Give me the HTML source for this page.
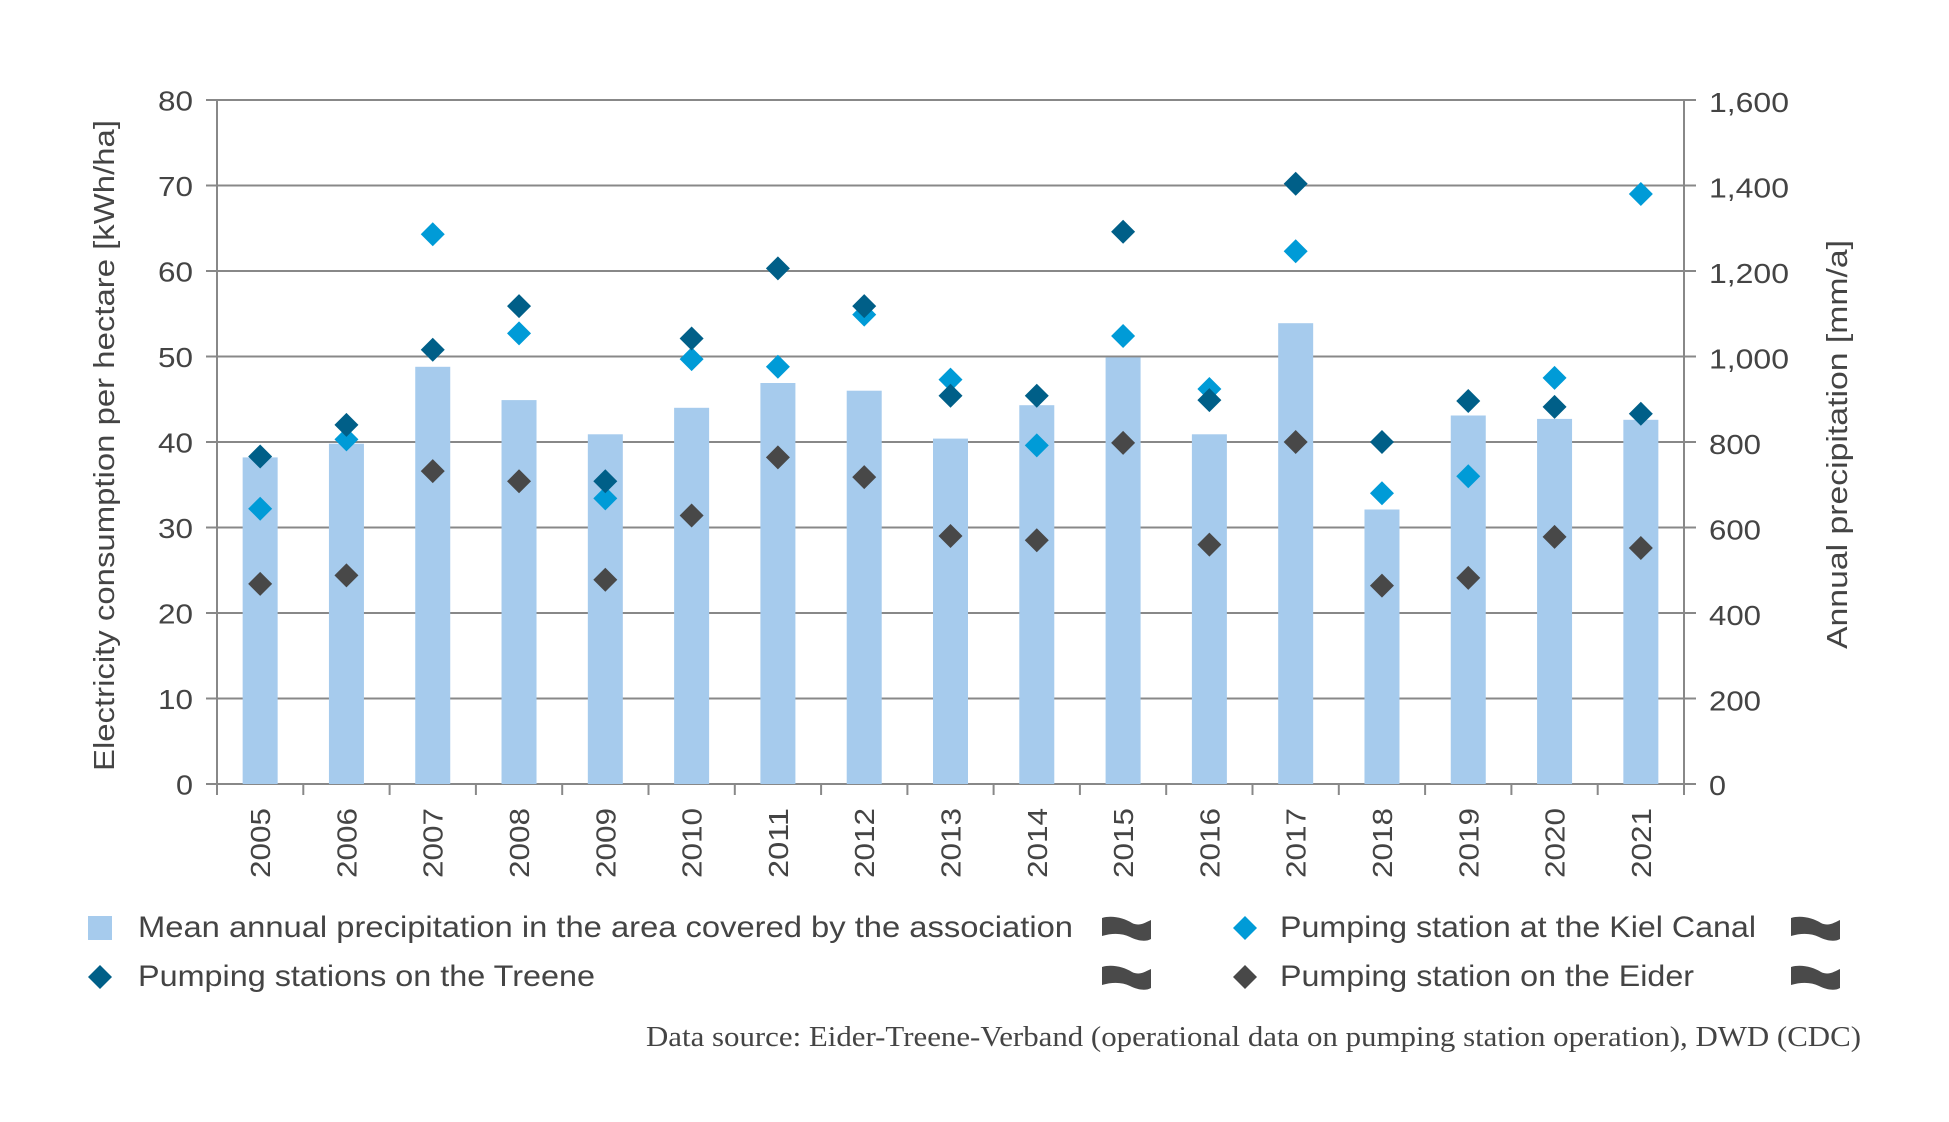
<!DOCTYPE html>
<html><head><meta charset="utf-8"><style>
html,body{margin:0;padding:0;background:#fff;}
svg{display:block;}
text{font-family:"Liberation Sans",sans-serif;fill:#444;}
</style></head><body>
<svg width="1949" height="1122" viewBox="0 0 1949 1122" xmlns="http://www.w3.org/2000/svg">
<rect width="1949" height="1122" fill="#fff"/>
<!-- gridlines -->
<g stroke="#888" stroke-width="2">
<line x1="206" y1="100" x2="1696" y2="100"/>
<line x1="206" y1="185.5" x2="1696" y2="185.5"/>
<line x1="206" y1="271" x2="1696" y2="271"/>
<line x1="206" y1="356.5" x2="1696" y2="356.5"/>
<line x1="206" y1="442" x2="1696" y2="442"/>
<line x1="206" y1="527.5" x2="1696" y2="527.5"/>
<line x1="206" y1="613" x2="1696" y2="613"/>
<line x1="206" y1="698.5" x2="1696" y2="698.5"/>
<line x1="206" y1="784" x2="1696" y2="784"/>
<line x1="217" y1="100" x2="217" y2="795"/>
<line x1="1684" y1="100" x2="1684" y2="795"/>
<line x1="303.3" y1="784" x2="303.3" y2="795"/>
<line x1="389.6" y1="784" x2="389.6" y2="795"/>
<line x1="475.9" y1="784" x2="475.9" y2="795"/>
<line x1="562.2" y1="784" x2="562.2" y2="795"/>
<line x1="648.5" y1="784" x2="648.5" y2="795"/>
<line x1="734.8" y1="784" x2="734.8" y2="795"/>
<line x1="821.1" y1="784" x2="821.1" y2="795"/>
<line x1="907.4" y1="784" x2="907.4" y2="795"/>
<line x1="993.6" y1="784" x2="993.6" y2="795"/>
<line x1="1079.9" y1="784" x2="1079.9" y2="795"/>
<line x1="1166.2" y1="784" x2="1166.2" y2="795"/>
<line x1="1252.5" y1="784" x2="1252.5" y2="795"/>
<line x1="1338.8" y1="784" x2="1338.8" y2="795"/>
<line x1="1425.1" y1="784" x2="1425.1" y2="795"/>
<line x1="1511.4" y1="784" x2="1511.4" y2="795"/>
<line x1="1597.7" y1="784" x2="1597.7" y2="795"/>
</g>
<!-- bars -->
<g fill="#a6cbed">
<rect x="242.65" y="457.4" width="35" height="326.6"/>
<rect x="328.94" y="443.7" width="35" height="340.3"/>
<rect x="415.24" y="366.8" width="35" height="417.2"/>
<rect x="501.53" y="400.1" width="35" height="383.9"/>
<rect x="587.82" y="434.3" width="35" height="349.7"/>
<rect x="674.12" y="407.8" width="35" height="376.2"/>
<rect x="760.41" y="383.0" width="35" height="401.0"/>
<rect x="846.71" y="390.7" width="35" height="393.3"/>
<rect x="933.0" y="438.6" width="35" height="345.4"/>
<rect x="1019.29" y="405.2" width="35" height="378.8"/>
<rect x="1105.59" y="357.4" width="35" height="426.6"/>
<rect x="1191.88" y="434.3" width="35" height="349.7"/>
<rect x="1278.18" y="323.2" width="35" height="460.8"/>
<rect x="1364.47" y="509.5" width="35" height="274.5"/>
<rect x="1450.76" y="415.5" width="35" height="368.5"/>
<rect x="1537.06" y="418.9" width="35" height="365.1"/>
<rect x="1623.35" y="419.8" width="35" height="364.2"/>
</g>
<!-- Eider -->
<g fill="#484848">
<path transform="translate(260.15,583.9)" d="M0,-12L12,0L0,12L-12,0Z"/>
<path transform="translate(346.44,575.4)" d="M0,-12L12,0L0,12L-12,0Z"/>
<path transform="translate(432.74,471.1)" d="M0,-12L12,0L0,12L-12,0Z"/>
<path transform="translate(519.03,481.3)" d="M0,-12L12,0L0,12L-12,0Z"/>
<path transform="translate(605.32,579.7)" d="M0,-12L12,0L0,12L-12,0Z"/>
<path transform="translate(691.62,515.5)" d="M0,-12L12,0L0,12L-12,0Z"/>
<path transform="translate(777.91,457.4)" d="M0,-12L12,0L0,12L-12,0Z"/>
<path transform="translate(864.21,477.1)" d="M0,-12L12,0L0,12L-12,0Z"/>
<path transform="translate(950.5,536.0)" d="M0,-12L12,0L0,12L-12,0Z"/>
<path transform="translate(1036.79,540.3)" d="M0,-12L12,0L0,12L-12,0Z"/>
<path transform="translate(1123.09,442.9)" d="M0,-12L12,0L0,12L-12,0Z"/>
<path transform="translate(1209.38,544.6)" d="M0,-12L12,0L0,12L-12,0Z"/>
<path transform="translate(1295.68,442.0)" d="M0,-12L12,0L0,12L-12,0Z"/>
<path transform="translate(1381.97,585.6)" d="M0,-12L12,0L0,12L-12,0Z"/>
<path transform="translate(1468.26,577.9)" d="M0,-12L12,0L0,12L-12,0Z"/>
<path transform="translate(1554.56,536.9)" d="M0,-12L12,0L0,12L-12,0Z"/>
<path transform="translate(1640.85,548.0)" d="M0,-12L12,0L0,12L-12,0Z"/>
</g>
<!-- Kiel Canal -->
<g fill="#009bd7">
<path transform="translate(260.15,508.7)" d="M0,-12L12,0L0,12L-12,0Z"/>
<path transform="translate(346.44,439.4)" d="M0,-12L12,0L0,12L-12,0Z"/>
<path transform="translate(432.74,234.2)" d="M0,-12L12,0L0,12L-12,0Z"/>
<path transform="translate(519.03,333.4)" d="M0,-12L12,0L0,12L-12,0Z"/>
<path transform="translate(605.32,498.4)" d="M0,-12L12,0L0,12L-12,0Z"/>
<path transform="translate(691.62,359.1)" d="M0,-12L12,0L0,12L-12,0Z"/>
<path transform="translate(777.91,366.8)" d="M0,-12L12,0L0,12L-12,0Z"/>
<path transform="translate(864.21,314.6)" d="M0,-12L12,0L0,12L-12,0Z"/>
<path transform="translate(950.5,379.6)" d="M0,-12L12,0L0,12L-12,0Z"/>
<path transform="translate(1036.79,445.4)" d="M0,-12L12,0L0,12L-12,0Z"/>
<path transform="translate(1123.09,336.0)" d="M0,-12L12,0L0,12L-12,0Z"/>
<path transform="translate(1209.38,389.0)" d="M0,-12L12,0L0,12L-12,0Z"/>
<path transform="translate(1295.68,251.3)" d="M0,-12L12,0L0,12L-12,0Z"/>
<path transform="translate(1381.97,493.3)" d="M0,-12L12,0L0,12L-12,0Z"/>
<path transform="translate(1468.26,476.2)" d="M0,-12L12,0L0,12L-12,0Z"/>
<path transform="translate(1554.56,377.9)" d="M0,-12L12,0L0,12L-12,0Z"/>
<path transform="translate(1640.85,194.0)" d="M0,-12L12,0L0,12L-12,0Z"/>
</g>
<!-- Treene -->
<g fill="#005f88">
<path transform="translate(260.15,456.5)" d="M0,-12L12,0L0,12L-12,0Z"/>
<path transform="translate(346.44,424.9)" d="M0,-12L12,0L0,12L-12,0Z"/>
<path transform="translate(432.74,349.7)" d="M0,-12L12,0L0,12L-12,0Z"/>
<path transform="translate(519.03,306.1)" d="M0,-12L12,0L0,12L-12,0Z"/>
<path transform="translate(605.32,481.3)" d="M0,-12L12,0L0,12L-12,0Z"/>
<path transform="translate(691.62,338.5)" d="M0,-12L12,0L0,12L-12,0Z"/>
<path transform="translate(777.91,268.4)" d="M0,-12L12,0L0,12L-12,0Z"/>
<path transform="translate(864.21,306.1)" d="M0,-12L12,0L0,12L-12,0Z"/>
<path transform="translate(950.5,395.8)" d="M0,-12L12,0L0,12L-12,0Z"/>
<path transform="translate(1036.79,395.8)" d="M0,-12L12,0L0,12L-12,0Z"/>
<path transform="translate(1123.09,231.7)" d="M0,-12L12,0L0,12L-12,0Z"/>
<path transform="translate(1209.38,400.1)" d="M0,-12L12,0L0,12L-12,0Z"/>
<path transform="translate(1295.68,183.8)" d="M0,-12L12,0L0,12L-12,0Z"/>
<path transform="translate(1381.97,442.0)" d="M0,-12L12,0L0,12L-12,0Z"/>
<path transform="translate(1468.26,401.0)" d="M0,-12L12,0L0,12L-12,0Z"/>
<path transform="translate(1554.56,406.9)" d="M0,-12L12,0L0,12L-12,0Z"/>
<path transform="translate(1640.85,413.8)" d="M0,-12L12,0L0,12L-12,0Z"/>
</g>
<!-- left tick labels -->
<g font-size="28" text-anchor="end">
<text x="193" y="110.5" textLength="35" lengthAdjust="spacingAndGlyphs">80</text>
<text x="193" y="196" textLength="35" lengthAdjust="spacingAndGlyphs">70</text>
<text x="193" y="281.5" textLength="35" lengthAdjust="spacingAndGlyphs">60</text>
<text x="193" y="367" textLength="35" lengthAdjust="spacingAndGlyphs">50</text>
<text x="193" y="452.5" textLength="35" lengthAdjust="spacingAndGlyphs">40</text>
<text x="193" y="538" textLength="35" lengthAdjust="spacingAndGlyphs">30</text>
<text x="193" y="623.5" textLength="35" lengthAdjust="spacingAndGlyphs">20</text>
<text x="193" y="709" textLength="35" lengthAdjust="spacingAndGlyphs">10</text>
<text x="193" y="794.5" textLength="17" lengthAdjust="spacingAndGlyphs">0</text>
</g>
<!-- right tick labels -->
<g font-size="28">
<text x="1709" y="112" textLength="80" lengthAdjust="spacingAndGlyphs">1,600</text>
<text x="1709" y="197.5" textLength="80" lengthAdjust="spacingAndGlyphs">1,400</text>
<text x="1709" y="283" textLength="80" lengthAdjust="spacingAndGlyphs">1,200</text>
<text x="1709" y="368.5" textLength="80" lengthAdjust="spacingAndGlyphs">1,000</text>
<text x="1709" y="454" textLength="52" lengthAdjust="spacingAndGlyphs">800</text>
<text x="1709" y="539.5" textLength="52" lengthAdjust="spacingAndGlyphs">600</text>
<text x="1709" y="625" textLength="52" lengthAdjust="spacingAndGlyphs">400</text>
<text x="1709" y="710.5" textLength="52" lengthAdjust="spacingAndGlyphs">200</text>
<text x="1709" y="795" textLength="17" lengthAdjust="spacingAndGlyphs">0</text>
</g>
<!-- year labels -->
<g font-size="28" text-anchor="end">
<text transform="translate(270.15,808) rotate(-90)" textLength="70" lengthAdjust="spacingAndGlyphs">2005</text>
<text transform="translate(356.44,808) rotate(-90)" textLength="70" lengthAdjust="spacingAndGlyphs">2006</text>
<text transform="translate(442.74,808) rotate(-90)" textLength="70" lengthAdjust="spacingAndGlyphs">2007</text>
<text transform="translate(529.03,808) rotate(-90)" textLength="70" lengthAdjust="spacingAndGlyphs">2008</text>
<text transform="translate(615.32,808) rotate(-90)" textLength="70" lengthAdjust="spacingAndGlyphs">2009</text>
<text transform="translate(701.62,808) rotate(-90)" textLength="70" lengthAdjust="spacingAndGlyphs">2010</text>
<text transform="translate(787.91,808) rotate(-90)" textLength="70" lengthAdjust="spacingAndGlyphs">2011</text>
<text transform="translate(874.21,808) rotate(-90)" textLength="70" lengthAdjust="spacingAndGlyphs">2012</text>
<text transform="translate(960.5,808) rotate(-90)" textLength="70" lengthAdjust="spacingAndGlyphs">2013</text>
<text transform="translate(1046.79,808) rotate(-90)" textLength="70" lengthAdjust="spacingAndGlyphs">2014</text>
<text transform="translate(1133.09,808) rotate(-90)" textLength="70" lengthAdjust="spacingAndGlyphs">2015</text>
<text transform="translate(1219.38,808) rotate(-90)" textLength="70" lengthAdjust="spacingAndGlyphs">2016</text>
<text transform="translate(1305.68,808) rotate(-90)" textLength="70" lengthAdjust="spacingAndGlyphs">2017</text>
<text transform="translate(1391.97,808) rotate(-90)" textLength="70" lengthAdjust="spacingAndGlyphs">2018</text>
<text transform="translate(1478.26,808) rotate(-90)" textLength="70" lengthAdjust="spacingAndGlyphs">2019</text>
<text transform="translate(1564.56,808) rotate(-90)" textLength="70" lengthAdjust="spacingAndGlyphs">2020</text>
<text transform="translate(1650.85,808) rotate(-90)" textLength="70" lengthAdjust="spacingAndGlyphs">2021</text>
</g>
<!-- axis titles -->
<text font-size="29" text-anchor="middle" transform="translate(114,445.5) rotate(-90)" textLength="651" lengthAdjust="spacingAndGlyphs">Electricity consumption per hectare [kWh/ha]</text>
<text font-size="29" text-anchor="middle" transform="translate(1847,444.5) rotate(-90)" textLength="409" lengthAdjust="spacingAndGlyphs">Annual precipitation [mm/a]</text>
<!-- legend -->
<rect x="88" y="916" width="24" height="24" fill="#a6cbed"/>
<path transform="translate(100,977)" d="M0,-12L12,0L0,12L-12,0Z" fill="#005f88"/>
<path transform="translate(1245,928)" d="M0,-12L12,0L0,12L-12,0Z" fill="#009bd7"/>
<path transform="translate(1245,977)" d="M0,-12L12,0L0,12L-12,0Z" fill="#484848"/>
<g fill="#4a4a4a">
<path transform="translate(1102,917)" d="M0,1 C10,-2 22,1 30,6 C38,10 44,5 49,3 L49,22 C44,25 36,24 28,20 C20,16 10,16 0,19 Z"/>
<path transform="translate(1102,966)" d="M0,1 C10,-2 22,1 30,6 C38,10 44,5 49,3 L49,22 C44,25 36,24 28,20 C20,16 10,16 0,19 Z"/>
<path transform="translate(1791,917)" d="M0,1 C10,-2 22,1 30,6 C38,10 44,5 49,3 L49,22 C44,25 36,24 28,20 C20,16 10,16 0,19 Z"/>
<path transform="translate(1791,966)" d="M0,1 C10,-2 22,1 30,6 C38,10 44,5 49,3 L49,22 C44,25 36,24 28,20 C20,16 10,16 0,19 Z"/>
</g>
<g font-size="30">
<text x="138" y="937" textLength="935" lengthAdjust="spacingAndGlyphs">Mean annual precipitation in the area covered by the association</text>
<text x="1280" y="937" textLength="476" lengthAdjust="spacingAndGlyphs">Pumping station at the Kiel Canal</text>
<text x="138" y="986" textLength="457" lengthAdjust="spacingAndGlyphs">Pumping stations on the Treene</text>
<text x="1280" y="986" textLength="414" lengthAdjust="spacingAndGlyphs">Pumping station on the Eider</text>
</g>
<text x="646" y="1046" font-size="29" style="font-family:'Liberation Serif',serif" textLength="1215" lengthAdjust="spacingAndGlyphs">Data source: Eider-Treene-Verband (operational data on pumping station operation), DWD (CDC)</text>
</svg>
</body></html>
